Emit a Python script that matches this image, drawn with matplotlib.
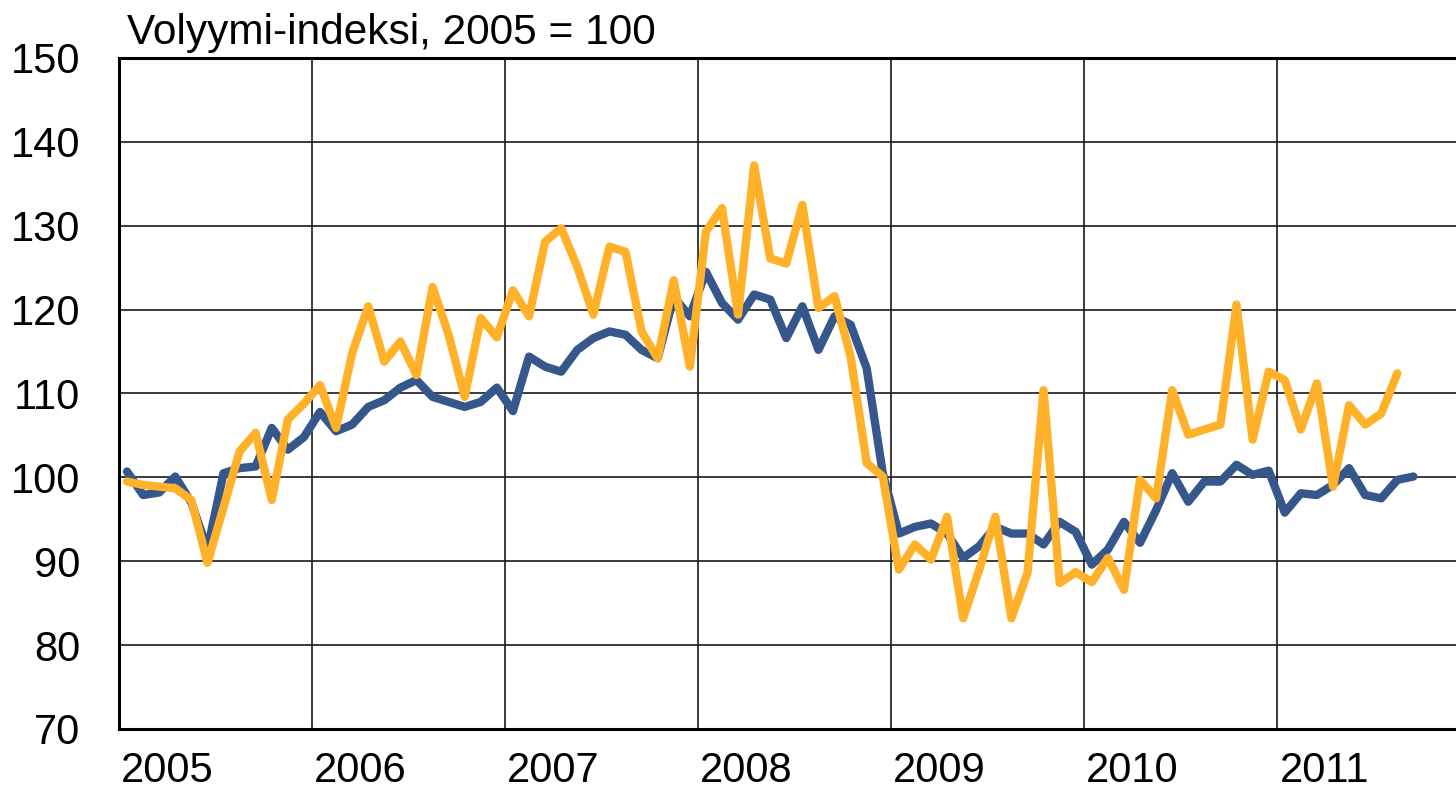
import matplotlib
matplotlib.use("Agg")
import matplotlib.pyplot as plt
import numpy as np

plt.rcParams['font.family'] = ['Liberation Sans', 'DejaVu Sans']

title = "Volyymi-indeksi, 2005 = 100"
years = ["2005", "2006", "2007", "2008", "2009", "2010", "2011"]

blue = [
    100.7, 97.9, 98.2, 100.1, 97.0, 91.4, 100.5, 101.1, 101.3, 105.9, 103.3, 104.8,
    107.8, 105.5, 106.3, 108.4, 109.2, 110.7, 111.6, 109.6, 109.0, 108.4, 109.0, 110.7,
    107.9, 114.4, 113.2, 112.6, 115.2, 116.6, 117.4, 117.0, 115.2, 114.2, 121.5, 119.2,
    124.5, 120.8, 118.8, 121.8, 121.2, 116.6, 120.4, 115.2, 119.2, 118.2, 113.0, 100.5,
    93.3, 94.1, 94.5, 93.3, 90.4, 91.8, 94.1, 93.3, 93.3, 92.0, 94.7, 93.5,
    89.6, 91.4, 94.7, 92.2, 96.1, 100.5, 97.1, 99.5, 99.5, 101.5, 100.3, 100.8,
    95.8, 98.1, 97.9, 99.1, 101.1, 97.9, 97.5, 99.7, 100.1,
]

orange = [
    99.5, 99.1, 98.9, 98.7, 97.3, 89.8, 96.4, 103.1, 105.3, 97.3, 106.9, 108.8,
    111.0, 105.9, 114.8, 120.4, 113.8, 116.2, 112.2, 122.7, 117.0, 109.6, 119.0, 116.7,
    122.3, 119.2, 128.1, 129.7, 125.1, 119.4, 127.5, 126.9, 117.4, 114.2, 123.5, 113.2,
    129.3, 132.1, 119.4, 137.2, 126.1, 125.5, 132.5, 120.2, 121.6, 114.4, 101.7, 100.1,
    89.0, 92.0, 90.2, 95.3, 83.2, 89.0, 95.3, 83.2, 88.6, 110.4, 87.4, 88.7,
    87.5, 90.4, 86.6, 99.7, 97.5, 110.4, 105.1, 105.7, 106.3, 120.6, 104.5, 112.6,
    111.6, 105.7, 111.2, 98.9, 108.6, 106.3, 107.6, 112.4,
]

W, H = 1456, 795
fig = plt.figure(figsize=(W / 100, H / 100), dpi=100)
ax = fig.add_axes([119 / W, (H - 729) / H, 1 - 119 / W, (729 - 58) / H])

xb = np.arange(len(blue)) + 0.5
xo = np.arange(len(orange)) + 0.5
ax.plot(xb, blue, color='#36578B', lw=6.0, solid_joinstyle='round', solid_capstyle='round', zorder=3)
ax.plot(xo, orange, color='#FFB12A', lw=6.0, solid_joinstyle='round', solid_capstyle='round', zorder=4)

ax.set_xlim(0, 83.15)
ax.set_ylim(70, 150)
ax.set_yticks(np.arange(70, 151, 10))
ax.set_xticks([12 * k + 3 for k in range(len(years))])
ax.set_xticklabels(years)

ax.grid(False)
for v in range(80, 150, 10):
    ax.axhline(v, color='#1a1a1a', lw=1.2, zorder=1)
for k in range(1, 7):
    ax.axvline(12 * k, color='#1a1a1a', lw=1.2, zorder=1)

ax.tick_params(axis='both', which='both', length=0, labelsize=30)
ax.tick_params(axis='y', pad=28)
ax.tick_params(axis='x', pad=16)

for s in ['left', 'bottom', 'top']:
    ax.spines[s].set_linewidth(2.2)
    ax.spines[s].set_color('black')
ax.spines['right'].set_visible(False)

fig.text(127 / W, (H - 44) / H, title, fontsize=30.5, ha='left', va='baseline')

fig.savefig('out.png', dpi=100)
